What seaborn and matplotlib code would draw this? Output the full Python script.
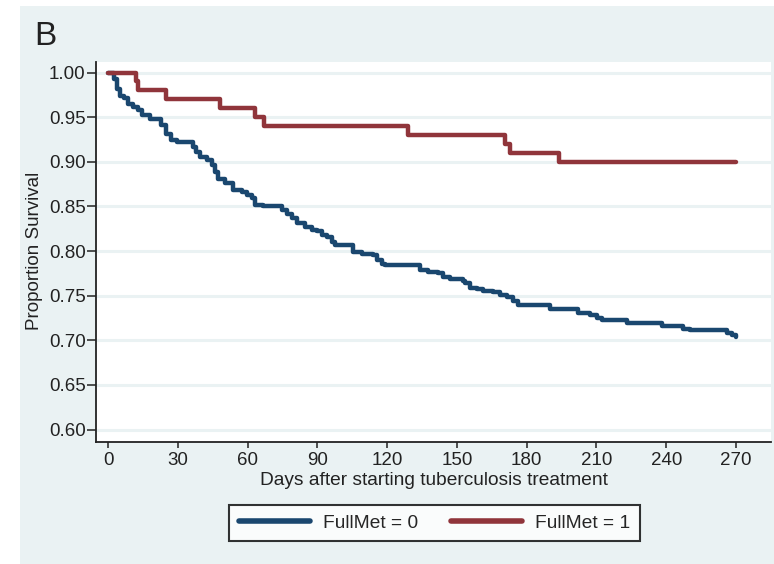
import numpy as np
import pandas as pd
import matplotlib
matplotlib.use("Agg")
import matplotlib.pyplot as plt
import seaborn as sns
from matplotlib.patches import Rectangle

# -----------------------------
# Kaplan-Meier estimates
# -----------------------------

# FullMet = 0 (day of step, proportion surviving after the step)
days_met0 = [0, 2.5, 4, 5, 7, 8.7, 10.9, 13, 14.5, 18, 23, 25, 27.3, 29.5,
             36.5, 38, 39.6, 42.4, 44.6, 46, 47.4, 50.3, 53.9, 57.5, 59.6,
             61.8, 63.2, 66.8, 74.7, 76.8, 79, 81.1, 84.7, 87.6, 89.7, 91.9,
             94, 96.2, 97.6, 105.5, 109, 114, 115.5, 117.7, 119, 134.1, 137.7,
             142, 144.2, 147, 152.8, 153.5, 155.6, 158.5, 161.4, 165.6, 168.5,
             171.4, 174.3, 176.4, 190, 202.2, 207.2, 210.1, 212.3, 223, 238,
             247.3, 250.2, 266, 268.1, 270]
surv_met0 = [1.000, 0.993, 0.982, 0.974, 0.971, 0.965, 0.961, 0.958, 0.952,
             0.948, 0.941, 0.931, 0.924, 0.922, 0.917, 0.911, 0.905, 0.902,
             0.896, 0.889, 0.881, 0.876, 0.868, 0.866, 0.863, 0.859, 0.852,
             0.850, 0.846, 0.842, 0.837, 0.831, 0.827, 0.824, 0.822, 0.818,
             0.816, 0.810, 0.807, 0.799, 0.797, 0.796, 0.790, 0.786, 0.784,
             0.779, 0.777, 0.775, 0.771, 0.769, 0.766, 0.764, 0.759, 0.757,
             0.755, 0.754, 0.751, 0.748, 0.744, 0.740, 0.735, 0.731, 0.728,
             0.725, 0.723, 0.719, 0.716, 0.713, 0.711, 0.708, 0.706, 0.704]

# FullMet = 1
days_met1 = [0, 12, 13, 25, 48, 63, 67, 129, 170.5, 173, 194, 270]
surv_met1 = [1.00, 0.99, 0.98, 0.97, 0.96, 0.95, 0.94, 0.93, 0.92, 0.91,
             0.90, 0.90]

group_labels = ["FullMet = 0", "FullMet = 1"]
x_ticks = [0, 30, 60, 90, 120, 150, 180, 210, 240, 270]
y_ticks = [0.60, 0.65, 0.70, 0.75, 0.80, 0.85, 0.90, 0.95, 1.00]

df = pd.concat([
    pd.DataFrame({"day": days_met0, "surv": surv_met0, "group": group_labels[0]}),
    pd.DataFrame({"day": days_met1, "surv": surv_met1, "group": group_labels[1]}),
], ignore_index=True)

# -----------------------------
# Style (Stata-like)
# -----------------------------

bg = "#eaf2f3"
sns.set_theme(style="white")
plt.rcParams["font.family"] = ["Liberation Sans", "DejaVu Sans"]

fig = plt.figure(figsize=(7.74, 5.64), dpi=100)
fig.patches.append(Rectangle((20 / 774, 0.0), 1 - 20 / 774, 1 - 6 / 564,
                             transform=fig.transFigure, facecolor=bg,
                             edgecolor="none", zorder=-10))

ax = fig.add_axes([96 / 774, 1 - 442 / 564, 675 / 774, 380 / 564])
ax.set_facecolor("white")

for yv in y_ticks:
    ax.axhline(yv, color=bg, lw=2.2, zorder=1)

sns.lineplot(data=df, x="day", y="surv", hue="group",
             palette=["#1a476f", "#90353b"], estimator=None,
             drawstyle="steps-post", lw=3.2, ax=ax, zorder=3)

ax.set_xlim(-5.16, 285.05)
ax.set_ylim(0.586, 1.0118)
ax.set_xticks(x_ticks)
ax.set_yticks(y_ticks)
ax.set_yticklabels([f"{v:.2f}" for v in y_ticks])

for s in ["top", "right"]:
    ax.spines[s].set_visible(False)
for s in ["left", "bottom"]:
    ax.spines[s].set_color("#222222")
    ax.spines[s].set_linewidth(1.3)

ax.tick_params(axis="y", which="major", direction="out", length=6.5,
               width=1.1, color="#222222", pad=1, labelsize=13.5,
               labelcolor="#222222", left=True)
ax.tick_params(axis="x", which="major", direction="out", length=4.5,
               width=1.1, color="#222222", pad=3, labelsize=13.5,
               labelcolor="#222222", bottom=True)

ax.set_xlabel("Days after starting tuberculosis treatment", fontsize=13.8,
              color="#222222", labelpad=2)
ax.set_ylabel("Proportion Survival", fontsize=13.5, color="#222222")
ax.yaxis.set_label_coords(-0.078, (442 - 251) / 380)

leg = ax.legend(loc="center", bbox_to_anchor=(434.5 / 774, 1 - 523 / 564),
                bbox_transform=fig.transFigure, ncol=2, frameon=True,
                fancybox=False, edgecolor="black", facecolor="white",
                fontsize=13.8, handlelength=3.7, handletextpad=0.7,
                columnspacing=1.7, borderpad=0.5, title=None)
leg.get_frame().set_linewidth(1.5)
for line in leg.get_lines():
    line.set_linewidth(4)

fig.text(34 / 774, 1 - 45 / 564, "B", fontsize=24, color="#222222",
         ha="left", va="baseline")

plt.savefig("out.png", dpi=100)
plt.close()
